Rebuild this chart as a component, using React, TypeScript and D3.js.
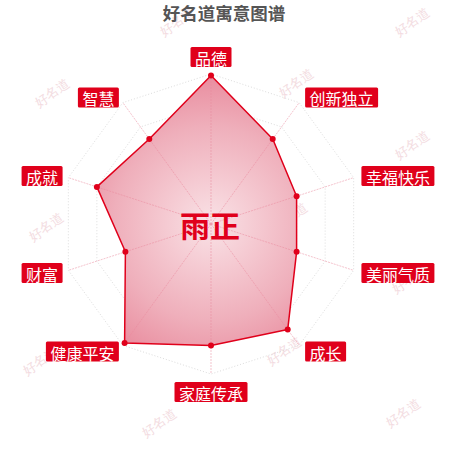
import React from "react";
import * as d3 from "d3";

// 维度与得分（满分 100）
const dims = ["品德", "创新独立", "幸福快乐", "美丽气质", "成长", "家庭传承", "健康平安", "财富", "成就", "智慧"];
const scores = [99, 70, 60, 60, 87, 81, 98, 60, 80, 70];
const levels = [20, 40, 60, 80, 100];
const title = "好名道寓意图谱";
const centerName = "雨正";
const watermark = "好名道";

const W = 450;
const H = 450;
const cx = 211;
const cy = 224;
const R = 150;
const RED = "#e0001b";
const FONT = "'Noto Sans CJK SC', 'Noto Sans', sans-serif";

export default function App() {
  const rScale = d3.scaleLinear().domain([0, 100]).range([0, R]);
  const angle = d3.scaleLinear().domain([0, dims.length]).range([0, 2 * Math.PI]);

  const polyLine = d3
    .lineRadial<number>()
    .angle((_, i) => angle(i))
    .radius((d) => rScale(d))
    .curve(d3.curveLinearClosed);

  const pt = (i: number, v: number) => {
    const a = angle(i);
    return [cx + rScale(v) * Math.sin(a), cy - rScale(v) * Math.cos(a)];
  };

  // watermark lattice
  const marks: [number, number][] = [];
  for (let i = -1; i <= 4; i++) {
    for (let j = -2; j <= 6; j++) {
      if ((i + j) % 2 !== 0) continue;
      const x = 52 + i * 122 - j * 3;
      const y = 93 - i * 5 + j * 67;
      if (x > 10 && x < 445 && y > 5 && y < 445) marks.push([Math.min(x, 412), Math.max(y, 22)]);
    }
  }

  return (
    <div style={{ position: "absolute", left: 0, top: 0 }}>
      <svg width={W} height={H} style={{ display: "block", background: "#fff" }}>
        <defs>
          <radialGradient id="areaGrad" gradientUnits="userSpaceOnUse" cx={0} cy={0} r={R}>
            <stop offset="0" stopColor="#f9e2e6" />
            <stop offset="0.3" stopColor="#f5cad2" />
            <stop offset="0.65" stopColor="#efafbb" />
            <stop offset="1" stopColor="#e98c9e" />
          </radialGradient>
        </defs>

        {marks.map(([x, y], k) => (
          <text
            key={k}
            x={x}
            y={y}
            transform={`rotate(-35 ${x} ${y})`}
            textAnchor="middle"
            dominantBaseline="central"
            fontFamily="serif"
            fontSize={13}
            fill="#f3dce1"
          >
            {watermark}
          </text>
        ))}

        <text x={224} y={20} textAnchor="middle" fontFamily={FONT} fontSize={17.5} fontWeight="bold" fill="#555">
          {title}
        </text>

        {/* split lines */}
        <g transform={`translate(${cx},${cy})`}>
          {levels.map((lv) => (
            <path
              key={lv}
              d={polyLine(dims.map(() => lv)) ?? ""}
              fill="none"
              stroke="#dcdcdc"
              strokeWidth={1}
              strokeDasharray="1,2"
            />
          ))}
        </g>

        {/* data area */}
        <g transform={`translate(${cx},${cy})`}>
          <path d={polyLine(scores) ?? ""} fill="url(#areaGrad)" stroke={RED} strokeWidth={1.5} strokeLinejoin="round" />
        </g>

        {/* axis lines */}
        {dims.map((d, i) => {
          const [x, y] = pt(i, 100);
          return (
            <line key={d} x1={cx} y1={cy} x2={x} y2={y} stroke="#e9879b" strokeOpacity={0.5} strokeWidth={1} strokeDasharray="2,1" />
          );
        })}

        {scores.map((v, i) => {
          const [x, y] = pt(i, v);
          return <circle key={i} cx={x} cy={y} r={3} fill={RED} />;
        })}

        <text x={cx - 1} y={cy} textAnchor="middle" dominantBaseline="central" fontFamily={FONT} fontSize={30} fontWeight="bold" fill={RED}>
          {centerName}
        </text>

        {dims.map((d, i) => {
          const a = angle(i);
          const ux = Math.sin(a);
          const uy = -Math.cos(a);
          const ex = cx + R * ux;
          const ey = cy + R * uy;
          const w = d.length * 16 + 9;
          const h = 20;
          let bx: number;
          let by: number;
          if (Math.abs(ux) < 0.1) {
            bx = ex - w / 2;
            by = uy < 0 ? ey - 7 - h : ey + 8;
          } else if (ux > 0) {
            bx = ex + 3 + 5 * ux;
            by = ey + 0.5 + 7 * uy - h / 2;
          } else {
            bx = ex - (1 + 5 * -ux) - w;
            by = ey + 0.5 + 7 * uy - h / 2;
          }
          return (
            <g key={d}>
              <rect x={bx} y={by} width={w} height={h} rx={1.5} fill={RED} />
              <text
                x={bx + w / 2}
                y={by + h / 2 + 1}
                textAnchor="middle"
                dominantBaseline="central"
                fontFamily={FONT}
                fontSize={16}
                fill="#fff"
              >
                {d}
              </text>
            </g>
          );
        })}
      </svg>
    </div>
  );
}
